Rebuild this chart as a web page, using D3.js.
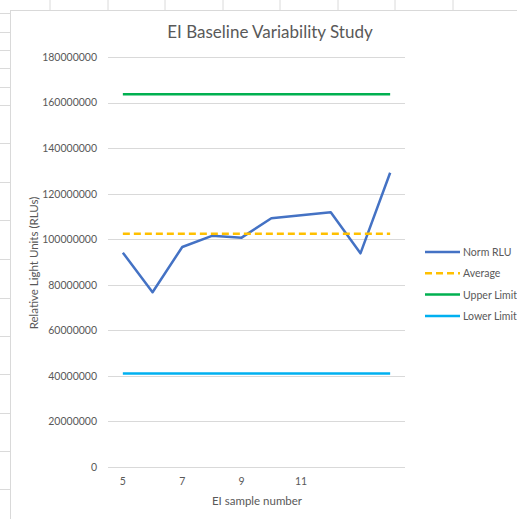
<!DOCTYPE html>
<html><head><meta charset="utf-8">
<script src="https://cdn.jsdelivr.net/npm/d3@7"></script>
<style>
html,body{margin:0;padding:0;background:#fff;}
svg{display:block;font-family:Lato,"Open Sans",sans-serif;}
</style></head>
<body>
<svg id="chart" width="517" height="519"></svg>
<script>
const categories = ["5","6","7","8","9","10","11","12","",""];
const normRLU = [94.1e6, 76.7e6, 96.6e6, 101.5e6, 100.7e6, 109.2e6, 110.5e6, 111.8e6, 93.8e6, 129.2e6];
const average = [102.4e6,102.4e6,102.4e6,102.4e6,102.4e6,102.4e6,102.4e6,102.4e6,102.4e6,102.4e6];
const upperLimit = [163.6e6,163.6e6,163.6e6,163.6e6,163.6e6,163.6e6,163.6e6,163.6e6,163.6e6,163.6e6];
const lowerLimit = [41.1e6,41.1e6,41.1e6,41.1e6,41.1e6,41.1e6,41.1e6,41.1e6,41.1e6,41.1e6];
const yTicks = [0,20e6,40e6,60e6,80e6,100e6,120e6,140e6,160e6,180e6];
const seriesNames = ["Norm RLU","Average","Upper Limit","Lower Limit"];
const title = "EI Baseline Variability Study";
const xTitle = "EI sample number";
const yTitle = "Relative Light Units (RLUs)";

const series = [
  {name: seriesNames[0], values: normRLU, color: "#4472c4", dash: null},
  {name: seriesNames[1], values: average, color: "#ffc000", dash: "7,4"},
  {name: seriesNames[2], values: upperLimit, color: "#00b050", dash: null},
  {name: seriesNames[3], values: lowerLimit, color: "#00b0f0", dash: null}
];

const svg = d3.select("#chart");

// spreadsheet background decoration
const colLines = [50,108,165,223,280,338,395,453];
const rowLines = [13,32,50,68,87,105,143,182,220,259,298,336,374,413,451,489];
svg.append("g").selectAll("line").data(colLines).join("line")
  .attr("x1",d=>d).attr("x2",d=>d).attr("y1",0).attr("y2",10)
  .attr("stroke","#dadada").attr("stroke-width",1);
svg.append("g").selectAll("line").data(rowLines).join("line")
  .attr("x1",0).attr("x2",10).attr("y1",d=>d+0.5).attr("y2",d=>d+0.5)
  .attr("stroke","#dadada").attr("stroke-width",1);
// chart area
svg.append("rect").attr("x",10.5).attr("y",10.5).attr("width",520).attr("height",520)
  .attr("fill","#fff").attr("stroke","#d9d9d9").attr("stroke-width",1);

const plot = {left:108, right:405, top:57, bottom:467};
const x = d3.scaleBand().domain(d3.range(categories.length)).range([plot.left, plot.right]);
const y = d3.scaleLinear().domain([0,180e6]).range([plot.bottom, plot.top]);
const cx = i => x(i) + x.bandwidth()/2;

// gridlines
svg.append("g").selectAll("line").data(yTicks).join("line")
  .attr("x1",plot.left).attr("x2",plot.right)
  .attr("y1",d=>Math.round(y(d))+0.5).attr("y2",d=>Math.round(y(d))+0.5)
  .attr("stroke","#d9d9d9").attr("stroke-width",1);

// y axis labels
const yAxis = d3.axisLeft(y).tickValues(yTicks).tickSize(0).tickPadding(11).tickFormat(d3.format("d"));
const gy = svg.append("g").attr("transform",`translate(${plot.left},0)`).call(yAxis);
gy.select(".domain").remove();
gy.selectAll("text").attr("fill","#595959").attr("font-size","10.5px").attr("font-family","Lato,sans-serif");

// x axis labels
const xAxis = d3.axisBottom(x).tickSize(0).tickPadding(11)
  .tickFormat(i => i % 2 === 0 ? categories[i] : "");
const gx = svg.append("g").attr("transform",`translate(0,${plot.bottom})`).call(xAxis);
gx.select(".domain").remove();
gx.selectAll("text").attr("fill","#595959").attr("font-size","10.5px").attr("font-family","Lato,sans-serif");

// lines
const line = d3.line().x((d,i)=>cx(i)).y(d=>y(d));
svg.append("g").selectAll("path").data(series).join("path")
  .attr("d",s=>line(s.values)).attr("fill","none")
  .attr("stroke",s=>s.color).attr("stroke-width",2.5)
  .attr("stroke-dasharray",s=>s.dash).attr("stroke-linejoin","round");

// title
svg.append("text").attr("x",270).attr("y",38).attr("text-anchor","middle")
  .attr("fill","#595959").attr("font-size","17px").text(title);
svg.append("text").attr("x",257).attr("y",505).attr("text-anchor","middle")
  .attr("fill","#595959").attr("font-size","11.5px").text(xTitle);
svg.append("text").attr("transform","translate(38,263) rotate(-90)").attr("text-anchor","middle")
  .attr("fill","#595959").attr("font-size","11.5px").text(yTitle);

// legend
const lg = svg.append("g").selectAll("g").data(series).join("g")
  .attr("transform",(d,i)=>`translate(425,${252+i*21.3})`);
lg.append("line").attr("x1",0).attr("x2",35).attr("y1",0).attr("y2",0)
  .attr("stroke",d=>d.color).attr("stroke-width",2.5).attr("stroke-dasharray",d=>d.dash);
lg.append("text").attr("x",38).attr("y",4).attr("fill","#595959").attr("font-size","10.5px").text(d=>d.name);
</script>
</body></html>
